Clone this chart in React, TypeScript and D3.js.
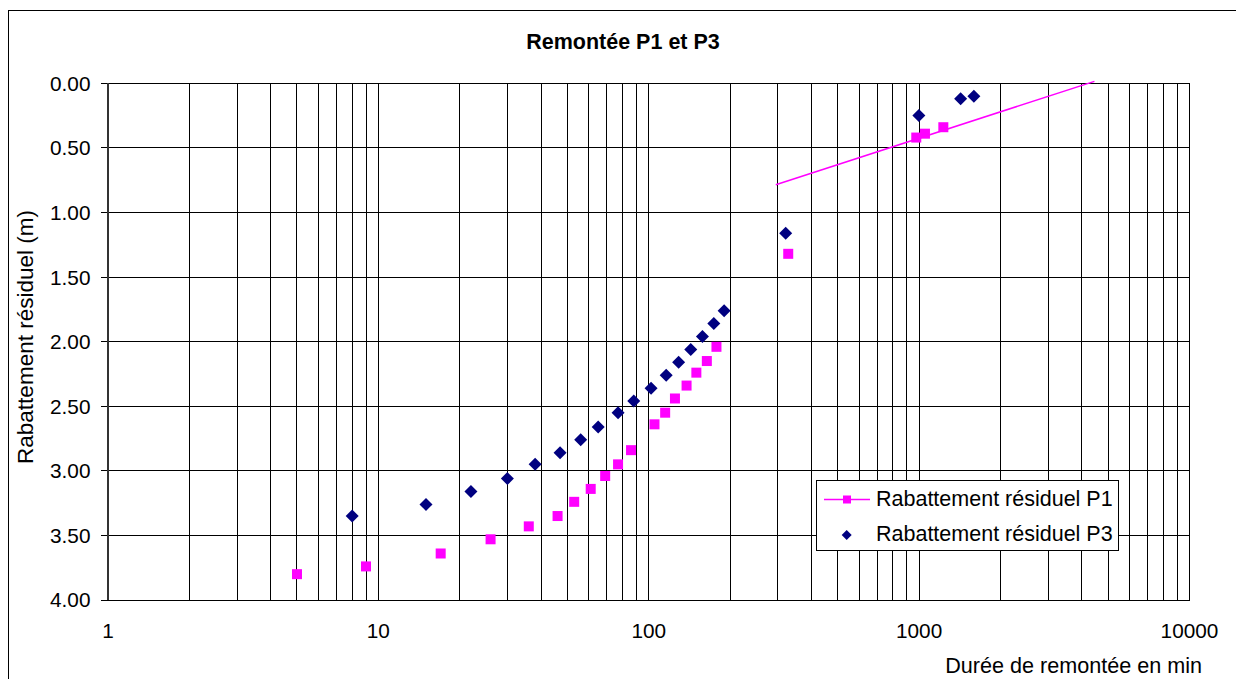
import React from "react";
import * as d3 from "d3";

const title = "Remontée P1 et P3";
const yLabel = "Rabattement résiduel (m)";
const xLabel = "Durée de remontée en min";
const seriesNames = ["Rabattement résiduel P1", "Rabattement résiduel P3"];

const xTicks = [1, 10, 100, 1000, 10000];
const yTicks = [0, 0.5, 1, 1.5, 2, 2.5, 3, 3.5, 4];

const p1Time = [5, 9, 17, 26, 36, 46, 53, 61, 69, 77, 86, 105, 115, 125, 138, 150, 164, 178, 328, 976, 1051, 1229];
const p1Draw = [3.80, 3.74, 3.64, 3.53, 3.43, 3.35, 3.24, 3.14, 3.04, 2.95, 2.84, 2.64, 2.55, 2.44, 2.34, 2.24, 2.15, 2.04, 1.32, 0.42, 0.39, 0.34];

const p3Time = [8, 15, 22, 30, 38, 47, 56, 65, 77, 88, 102, 116, 129, 143, 158, 174, 190, 321, 998, 1424, 1594];
const p3Draw = [3.35, 3.26, 3.16, 3.06, 2.95, 2.86, 2.76, 2.66, 2.55, 2.46, 2.36, 2.26, 2.16, 2.06, 1.96, 1.86, 1.76, 1.16, 0.25, 0.12, 0.10];

const trendTime = [295, 4450];
const trendDraw = [0.785, -0.015];

const PINK = "#FF00FF";
const NAVY = "#000080";
const FONT = "'Liberation Sans', Arial, sans-serif";

export default function App() {
  const W = 1236, H = 679;
  const left = 108, right = 1189.5, top = 83.3, bottom = 600;
  const x = d3.scaleLog().domain([1, 10000]).range([left, right]);
  const y = d3.scaleLinear().domain([0, 4]).range([top, bottom]);

  const minorX: number[] = [];
  for (let dec = 1; dec < 10000; dec *= 10) {
    for (let k = 1; k <= 9; k++) minorX.push(dec * k);
  }
  minorX.push(10000);

  const line = d3.line<number>().x((_, i) => x(trendTime[i])).y((d) => y(d));
  const sq = 10;
  const dm = 6.5;
  const diamond = (cx: number, cy: number, r: number) =>
    `M${cx},${cy - r}L${cx + r},${cy}L${cx},${cy + r}L${cx - r},${cy}Z`;

  const lx = 816.7, ly = 480.7, lw = 301.6, lh = 69.3;

  return (
    <svg width={W} height={H} style={{ position: "absolute", left: 0, top: 0, background: "#fff" }} fontFamily={FONT}>
      <rect x={8.5} y={10.5} width={1240} height={700} fill="#fff" stroke="#000" strokeWidth={1} />
      <text x={623} y={48.5} textAnchor="middle" fontWeight="bold" fontSize={21.5}>{title}</text>

      {/* grid */}
      <g shapeRendering="crispEdges">
        {minorX.map((v, i) => (
          <line key={"gx" + i} x1={x(v)} x2={x(v)} y1={top} y2={bottom} stroke="#000" strokeWidth={1} />
        ))}
        {yTicks.map((v, i) => (
          <line key={"gy" + i} x1={left} x2={right} y1={y(v)} y2={y(v)} stroke="#000" strokeWidth={1} />
        ))}
        {yTicks.map((v, i) => (
          <line key={"ty" + i} x1={left - 7} x2={left} y1={y(v)} y2={y(v)} stroke="#000" strokeWidth={1} />
        ))}
        <rect x={left} y={top} width={right - left} height={bottom - top} fill="none" stroke="#000" strokeWidth={1} />
        <line x1={left} x2={left} y1={top} y2={bottom} stroke="#333" strokeWidth={2} />
      </g>

      {/* tick labels */}
      {yTicks.map((v, i) => (
        <text key={"yl" + i} x={90.5} y={y(v)} dy="0.36em" textAnchor="end" fontSize={20.8}>{v.toFixed(2)}</text>
      ))}
      {xTicks.map((v, i) => (
        <text key={"xl" + i} x={x(v)} y={638} textAnchor="middle" fontSize={20.8}>{String(v)}</text>
      ))}
      <text x={1202} y={673} textAnchor="end" fontSize={21.6}>{xLabel}</text>
      <text transform={`translate(33,337) rotate(-90)`} textAnchor="middle" fontSize={22.5}>{yLabel}</text>

      {/* trend line */}
      <path d={line(trendDraw) || ""} fill="none" stroke={PINK} strokeWidth={1.5} />

      {/* P1 */}
      {p1Time.map((t, i) => (
        <rect key={"p1" + i} x={x(t) - sq / 2} y={y(p1Draw[i]) - sq / 2} width={sq} height={sq} fill={PINK} />
      ))}
      {/* P3 */}
      {p3Time.map((t, i) => (
        <path key={"p3" + i} d={diamond(x(t), y(p3Draw[i]), dm)} fill={NAVY} />
      ))}

      {/* legend */}
      <rect x={lx} y={ly} width={lw} height={lh} fill="#fff" stroke="#000" strokeWidth={1} shapeRendering="crispEdges" />
      <line x1={824} x2={870} y1={499.5} y2={499.5} stroke={PINK} strokeWidth={1.5} />
      <rect x={847 - 4} y={499.5 - 4} width={8} height={8} fill={PINK} />
      <path d={diamond(846.7, 535, 5)} fill={NAVY} />
      <text x={876} y={505.5} fontSize={21.5}>{seriesNames[0]}</text>
      <text x={876} y={540.5} fontSize={21.5}>{seriesNames[1]}</text>
    </svg>
  );
}
